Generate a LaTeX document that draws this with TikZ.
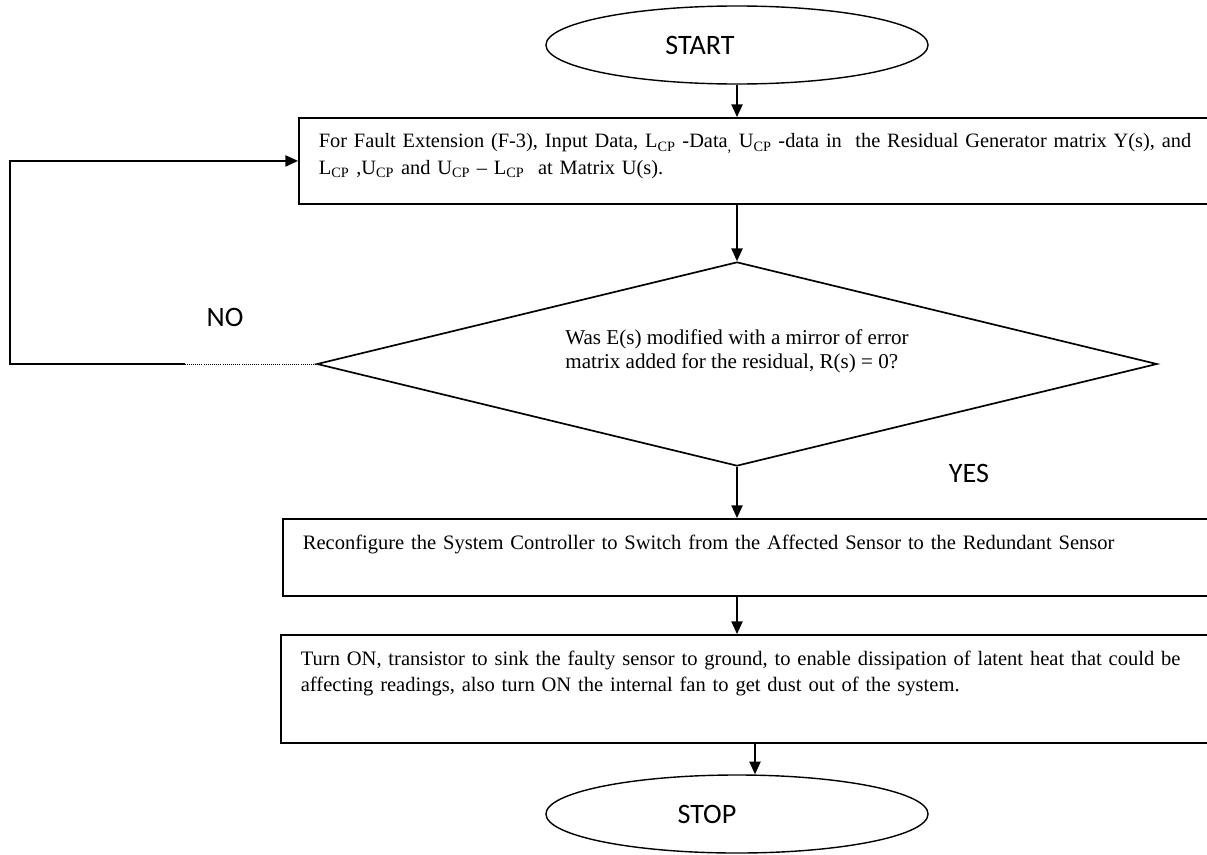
\documentclass[tikz,border=0pt]{standalone}
\usepackage{fontspec}
\setmainfont{Liberation Serif}
\newfontfamily\calibri{Carlito}
\usetikzlibrary{shapes.geometric,arrows.meta}

\begin{document}
\begin{tikzpicture}[x=0.025cm,y=-0.025cm,
        term/.style={draw, ellipse, line width=1pt, minimum width=9.55cm, minimum height=1.95cm, font=\calibri\fontsize{20}{24}\selectfont},
        proc/.style={draw, rectangle, line width=1.2pt, anchor=north west, align=left, text width=22.7cm, inner xsep=0.5cm, inner ysep=0.4cm, font=\fontsize{14.6}{18.5}\selectfont},
        dec/.style={draw, diamond, aspect=4.14, line width=1.2pt, minimum width=21cm, minimum height=5.1cm, inner sep=0pt, align=left, font=\fontsize{15}{17.5}\selectfont},
        lbl/.style={font=\calibri\fontsize{20}{24}\selectfont},
        arr/.style={-{Triangle[length=9pt,width=8pt]}, line width=1pt}]
        \useasboundingbox (0,0) rectangle (1207,854);
        \clip (0,0) rectangle (1207,854);

        \node[term] (start) at (737,45) {START\hspace*{1.85cm}};
        \node[proc, text depth=1.0cm, font=\fontsize{14.5}{18.5}\selectfont] (box1) at (298,117) {For Fault Extension (F-3), Input Data, L\textsubscript{CP} -Data\textsubscript{,} U\textsubscript{CP} -data in~ the Residual Generator matrix Y(s), and\\
            L\textsubscript{CP} ,U\textsubscript{CP} and U\textsubscript{CP} -- L\textsubscript{CP}~ at Matrix U(s).};
        \node[dec, text depth=0.75cm] (dia) at (737,364) {Was E(s) modified with a mirror of error\\matrix added for the residual, R(s) = 0?};
        \node[proc, text depth=0.775cm] (box2) at (282,518) {Reconfigure the System Controller to Switch from the Affected Sensor to the Redundant Sensor};
        \node[proc, text depth=1.55cm] (box3) at (280,634) {Turn ON, transistor to sink the faulty sensor to ground, to enable dissipation of latent heat that could be\\
            affecting readings, also turn ON the internal fan to get dust out of the system.};
        \node[term] (stop) at (737,814) {STOP\hspace*{1.5cm}};
        \node[lbl] (no) at (225,317) {NO};
        \node[lbl] (yes) at (969,473) {YES};

        \coordinate (lpc) at (10,0);
        \coordinate (nobrk) at (185,0);

        \draw[arr] (start.south) -- (start.south |- box1.north);
        \draw[arr] (box1.south -| dia.north) -- (dia.north);
        \draw[arr] (dia.south) -- (dia.south |- box2.north);
        \draw[arr] (box2.south -| dia.south) -- (dia.south |- box3.north);
        \draw[arr] ([xshift=0.45cm]box3.south -| stop.north) -- ([xshift=0.45cm]stop.north);
        \draw[line width=0.5pt, densely dotted] (dia.west) -- (dia.west -| nobrk);
        \draw[arr] (dia.west -| nobrk) -- (dia.west -| lpc) |- (box1.west);
    \end{tikzpicture}
\end{document}
